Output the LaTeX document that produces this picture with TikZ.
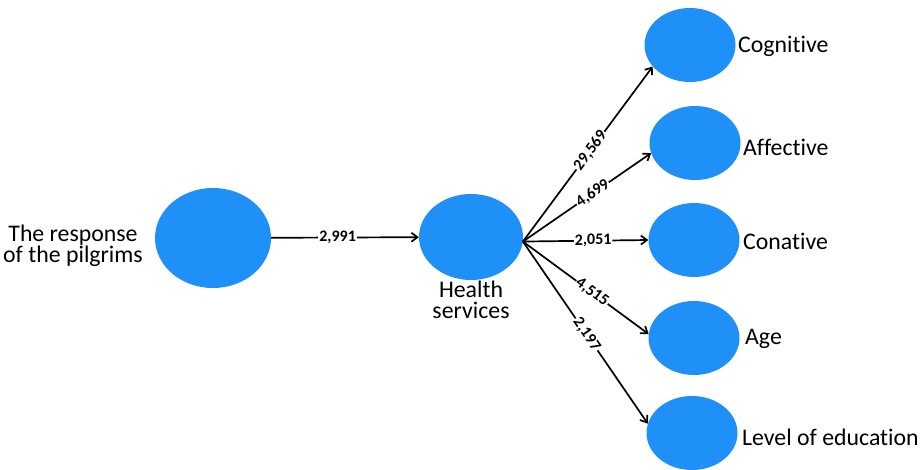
\documentclass[tikz,border=0pt]{standalone}
\usepackage{fontspec}
\setmainfont{Carlito}[Ligatures=NoCommon]
\usetikzlibrary{arrows.meta,shapes.geometric}
\definecolor{latent}{RGB}{30,144,248}
\begin{document}
\begin{tikzpicture}[x=1pt,y=-1pt,
  latentvar/.style={ellipse,fill=latent,inner sep=0pt},
  smallvar/.style={latentvar,minimum width=91pt,minimum height=74pt},
  varname/.style={font=\fontsize{23.8}{21}\selectfont,inner sep=0pt},
  relpath/.style={line width=1.7pt,-{Straight Barb[length=6pt,width=9pt]}},
  coef/.style={font=\fontsize{16}{16}\selectfont\bfseries,fill=white,inner sep=1pt}]
\useasboundingbox (0,0) rectangle (923,470);
% latent variables
\node[latentvar,minimum width=116pt,minimum height=100pt] (resp) at (213,238) {};
\node[latentvar,minimum width=104pt,minimum height=86pt] (hs) at (471,237) {};
\node[smallvar] (cog) at (690,45) {};
\node[smallvar] (aff) at (695,143) {};
\node[smallvar] (con) at (694,240) {};
\node[smallvar] (age) at (694,338) {};
\node[smallvar] (lev) at (692,433) {};
% names
\node[varname,align=center,anchor=east] (respl) at (143,246) {The response\\of the pilgrims};
\node[varname,align=center,anchor=north] (hsl) at (471,281) {Health\\services};
\node[varname,anchor=base west] (cogl) at (738,53) {Cognitive};
\node[varname,anchor=base west] (affl) at (743,156) {Affective};
\node[varname,anchor=base west] (conl) at (743,250) {Conative};
\node[varname,anchor=base west] (agel) at (745,344) {Age};
\node[varname,anchor=base west] (levl) at (742,445) {Level of education};
% paths
\draw[relpath] (resp) -- node[coef,pos=0.45] {2,991} (hs);
\draw[relpath] (hs.-5) -- node[coef,sloped,pos=0.52] {29,569} (cog.210);
\draw[relpath] (hs.-5) -- node[coef,sloped,pos=0.545] {4,699} (aff.193);
\draw[relpath] (hs.-5) -- node[coef,sloped,pos=0.56] {2,051} (con.west);
\draw[relpath] (hs.-5) -- node[coef,sloped,pos=0.55] {4,515} (age.175);
\draw[relpath] (hs.-5) -- node[coef,sloped,pos=0.51] {2,197} (lev.168);
\end{tikzpicture}
\end{document}
